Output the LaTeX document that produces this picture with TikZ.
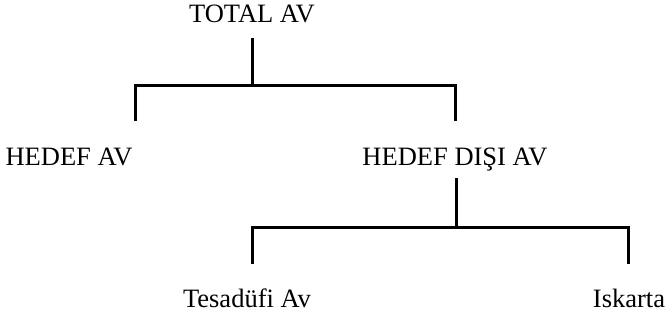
\documentclass[tikz,border=0pt]{standalone}
\usepackage{fontspec}
\setmainfont{Liberation Serif}
\begin{document}
\begin{tikzpicture}[x=1pt,y=-1pt,
  lbl/.style={font=\fontsize{26.5}{30}\selectfont, inner sep=0pt, anchor=base},
  conn/.style={line width=3pt}]
\useasboundingbox (0,0) rectangle (667,320);
\node[lbl] (total) at (252,23) {TOTAL AV};
\node[lbl] (hedef) at (69,166) {HEDEF AV};
\node[lbl] (disi) at (455,166) {HEDEF DIŞI AV};
\node[lbl] (tes) at (247,308) {Tesadüfi Av};
\node[lbl] (isk) at (629,308) {Iskarta};
\coordinate (t1) at (252,38);
\coordinate (t2) at (252,86);
\coordinate (l1) at (135,86);
\coordinate (l2) at (135,121);
\coordinate (r1) at (455,86);
\coordinate (r2) at (455,121);
\coordinate (d1) at (456,178);
\coordinate (d2) at (456,228);
\coordinate (a1) at (252,228);
\coordinate (a2) at (252,264);
\coordinate (b1) at (628,228);
\coordinate (b2) at (628,264);
\draw[conn] (t1) -- (t2);
\draw[conn] (l2) -- (l1) -- (r1) -- (r2);
\draw[conn] (d1) -- (d2);
\draw[conn] (a2) -- (a1) -- (b1) -- (b2);
\end{tikzpicture}
\end{document}
